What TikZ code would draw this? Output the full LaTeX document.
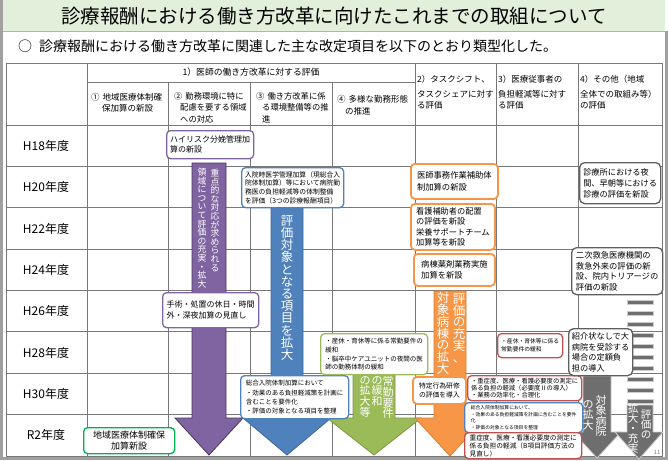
\documentclass[tikz,border=0pt]{standalone}
\usepackage{fontspec}
\setmainfont{Noto Sans CJK JP}
\usetikzlibrary{positioning}
\definecolor{titlegreen}{RGB}{226,239,218}
\definecolor{framegray}{RGB}{160,160,160}
\definecolor{gridgray}{RGB}{120,120,120}
\definecolor{diagrampurple}{RGB}{128,100,162}
\definecolor{diagramblue}{RGB}{79,129,189}
\definecolor{diagramgreen}{RGB}{155,187,89}
\definecolor{brightgreen}{RGB}{0,176,80}
\definecolor{diagramorange}{RGB}{247,150,70}
\definecolor{diagramred}{RGB}{192,80,77}
\definecolor{diagramgray}{RGB}{110,110,110}
\definecolor{boxgray}{RGB}{95,95,95}

% vertical (tategaki) stack of characters
\newcommand\tate[1]{\vbox{\tateaux#1\tateend}}
\def\tateaux#1#2\tateend{\hbox to 1em{\hss#1\hss}\ifx\relax#2\relax\else\tateaux#2\tateend\fi}

\begin{document}
\begin{tikzpicture}[x=1pt, y=-1pt,
    every node/.style={inner sep=0pt},
    gridline/.style={draw=gridgray, line width=0.8pt},
    hdr/.style={anchor=north west, align=left, font=\fontsize{8.5}{11.5}\selectfont},
    yr/.style={font=\fontsize{12}{14}\selectfont},
    box/.style={draw, fill=white, rounded corners=4pt, line width=1.3pt, anchor=north west, align=left, inner sep=2pt},
    arrowshape/.style={line width=0.8pt},
    tatetext/.style={text=white, anchor=north}]

    \useasboundingbox (0,0) rectangle (668,460);
    \fill[white] (0,0) rectangle (668,460);

    % title bar and frame
    \fill[titlegreen] (3,0) rectangle (665,31);
    \draw[gray!60, line width=0.6pt] (3,31) -- (665,31);
    \draw[framegray, line width=3pt] (1.5,0) -- (1.5,460);
    \draw[framegray, line width=3pt] (666.5,31) -- (666.5,460);
    \draw[framegray, line width=3pt] (0,458.5) -- (668,458.5);
    \node (title) at (334,16) {\fontsize{19.5}{22}\selectfont 診療報酬における働き方改革に向けたこれまでの取組について};
    \node[anchor=west] (lead) at (18,46) {\fontsize{14}{16}\selectfont ○\hspace{7pt}診療報酬における働き方改革に関連した主な改定項目を以下のとおり類型化した。};

    % table grid
    \draw[gridline] (6,63) rectangle (662,456);
    \draw[gridline] (87,82) -- (415,82);
    \foreach \x in {87,415,496,578} \draw[gridline] (\x,63) -- (\x,456);
    \foreach \x in {168,250,332} \draw[gridline] (\x,82) -- (\x,456);
    \foreach \k in {0,...,7} \draw[gridline] (6,{125+41.375*\k}) -- (662,{125+41.375*\k});

    % column headers
    \node[font=\fontsize{8.8}{11}\selectfont] (cat1) at (251,72.5) {1）医師の働き方改革に対する評価};
    \node[hdr] (colA) at (91,93) {①\hspace{3pt}地域医療体制確\\\hspace{11pt}保加算の新設};
    \node[hdr, font=\fontsize{8.3}{11.5}\selectfont] (colB) at (174,92) {②\hspace{3pt}勤務環境に特に\\\hspace{6pt}配慮を要する領域\\\hspace{6pt}への対応};
    \node[hdr, font=\fontsize{8.3}{11.5}\selectfont] (colC) at (256,92) {③\hspace{3pt}働き方改革に係\\\hspace{6pt}る環境整備等の推\\\hspace{6pt}進};
    \node[hdr] (colD) at (337,95.5) {④\hspace{3pt}多様な勤務形態\\\hspace{8pt}の推進};
    \node[hdr] (cat2) at (417,75.5) {2）タスクシフト、\\[3pt]タスクシェアに対す\\る評価};
    \node[hdr] (cat3) at (498,75.5) {3）医療従事者の\\[3pt]負担軽減等に対す\\る評価};
    \node[hdr] (cat4) at (580,75.5) {4）その他（地域\\[3pt]全体での取組み等）\\の評価};

    % years
    \foreach \lbl [count=\k from 0] in {H18,H20,H22,H24,H26,H28,H30,R2}
        \node[yr] (yr\lbl) at (46,{145.7+41.375*\k}) {\lbl 年度};

    % arrows
    \filldraw[fill=diagrampurple, draw=diagrampurple!55!black, arrowshape] (192,163) -- (226,163) -- (226,418) -- (243,418) -- (209,455) -- (175,418) -- (192,418) -- cycle;
    \filldraw[fill=diagramblue, draw=diagramblue!80!black, arrowshape] (271,207) -- (303,207) -- (303,418) -- (331,418) -- (287,455) -- (243,418) -- (271,418) -- cycle;
    \filldraw[fill=diagramgreen, draw=diagramgreen!80!black, arrowshape] (353,374) -- (395,374) -- (395,418) -- (421,418) -- (374,455) -- (327,418) -- (353,418) -- cycle;
    \filldraw[fill=diagramorange, draw=diagramorange!85!black, arrowshape] (434,291) -- (466,291) -- (466,418) -- (485,418) -- (450,456) -- (415,418) -- (434,418) -- cycle;
    \filldraw[fill=diagramgray, draw=gray!40, arrowshape] (583,376) -- (611,376) -- (611,432) -- (621,432) -- (597,458) -- (573,432) -- (583,432) -- cycle;
    \foreach \y in {300,311,...,399}
        \filldraw[fill=diagramgray, draw=gray!40, arrowshape] (627,\y) rectangle (653,{\y+4});
    \filldraw[fill=diagramgray, draw=gray!40, arrowshape] (627,405) -- (653,405) -- (653,432) -- (663,432) -- (639,459) -- (615,432) -- (627,432) -- cycle;

    % text on the arrows
    \node[tatetext, font=\fontsize{8.8}{8.6}\selectfont] (purpleR) at (215,169) {\tate{重点的な対応が求められる}};
    \node[tatetext, font=\fontsize{8.8}{8.6}\selectfont] (purpleL) at (202,168) {\tate{領域について評価の充実・拡大}};
    \node[tatetext, font=\fontsize{12.5}{12.2}\selectfont] (blueT) at (287,215) {\tate{評価対象となる項目を拡大}};
    \node[tatetext, font=\fontsize{11}{10.8}\selectfont] (greenR) at (388,376) {\tate{常勤要件}};
    \node[tatetext, font=\fontsize{11}{10.8}\selectfont] (greenM) at (377,376) {\tate{の緩和}};
    \node[tatetext, font=\fontsize{11}{10.8}\selectfont] (greenL) at (365,376) {\tate{の拡大等}};
    \node[tatetext, font=\fontsize{12.5}{11.8}\selectfont] (orangeR) at (459,293) {\tate{評価の充実、}};
    \node[tatetext, font=\fontsize{12.5}{11.8}\selectfont] (orangeL) at (443,292) {\tate{対象病棟の拡大}};
    \node[tatetext, font=\fontsize{11}{10.5}\selectfont] (grayAR) at (601,395) {\tate{対象病院}};
    \node[tatetext, font=\fontsize{11}{10.5}\selectfont] (grayAL) at (588,400) {\tate{の拡大}};
    \node[tatetext, font=\fontsize{10.5}{10}\selectfont] (grayBR) at (646,410) {\tate{評価の}};
    \node[tatetext, font=\fontsize{10.5}{10}\selectfont] (grayBL) at (633,403) {\tate{拡大・充実}};

    % boxes, column 1)
    \node[box, draw=diagrampurple, minimum width=87pt, minimum height=28pt, font=\fontsize{8}{10}\selectfont] (risk) at (166,130) {ハイリスク分娩管理加\\算の新設};
    \node[box, draw=diagrampurple, minimum width=96pt, minimum height=35pt, font=\fontsize{8}{10.5}\selectfont] (shinya) at (162,292) {手術・処置の休日・時間\\外・深夜加算の見直し};
    \node[box, draw=brightgreen, align=center, minimum width=91pt, minimum height=26pt, font=\fontsize{9}{11}\selectfont] (chiiki) at (83,427) {地域医療体制確保\\加算新設};
    \node[box, draw=diagramblue, minimum width=102pt, minimum height=40pt, font=\fontsize{6.8}{8.6}\selectfont] (nyuin) at (241,167) {入院時医学管理加算（現総合入\\院体制加算）等において病院勤\\務医の負担軽減等の体制整備\\を評価（3つの診療報酬項目）};
    \node[box, draw=diagramblue, minimum width=108pt, minimum height=43pt, font=\fontsize{6.5}{9.2}\selectfont] (sogo) at (240,375) {総合入院体制加算において\\・効果のある負担軽減策を計画に\\含むことを要件化\\・評価の対象となる項目を整理};
    \node[box, draw=diagramgreen, minimum width=107pt, minimum height=41pt, font=\fontsize{6.5}{8.8}\selectfont] (kyugyo) at (320,333) {・産休・育休等に係る常勤要件の\\緩和\\・脳卒中ケアユニットの夜間の医\\師の勤務体制の緩和};

    % boxes, column 2)
    \node[box, draw=diagramorange, line width=1.8pt, minimum width=87pt, minimum height=35pt, font=\fontsize{8.3}{11.5}\selectfont] (jimu) at (410,163) {医師事務作業補助体\\制加算の新設};
    \node[box, draw=diagramorange, line width=1.8pt, minimum width=84pt, minimum height=46pt, font=\fontsize{8.2}{10.3}\selectfont] (kango) at (410,203) {看護補助者の配置\\の評価を新設\\栄養サポートチーム\\加算等を新設};
    \node[box, draw=diagramorange, line width=1.8pt, minimum width=81pt, minimum height=32pt, font=\fontsize{8.3}{11.5}\selectfont] (yakuzai) at (413,253) {病棟薬剤業務実施\\加算を新設};
    \node[box, draw=diagramorange, line width=1.8pt, minimum width=53pt, minimum height=27pt, font=\fontsize{6.8}{9.5}\selectfont] (tokutei) at (412,376) {特定行為研修\\の評価を導入};

    % boxes, column 3)
    \node[box, draw=diagramred, minimum width=65pt, minimum height=24pt, font=\fontsize{5.8}{8}\selectfont] (kyugyoB) at (497,333) {・産休・育休等に係る\\常勤要件の緩和};
    \node[box, draw=diagramred, inner ysep=1pt, minimum width=114pt, minimum height=25pt, font=\fontsize{6.3}{7.4}\selectfont] (hitsuyo) at (467,375) {・重症度、医療・看護必要度の測定に\\係る負担の軽減（必要度Ⅱの導入）\\・業務の効率化・合理化};
    \node[box, draw=diagramblue, inner ysep=1pt, minimum width=118pt, minimum height=30pt, font=\fontsize{4.8}{6.4}\selectfont] (sogoB) at (464,402) {総合入院体制加算において、\\・効果のある負担軽減策を計画に含むことを要件\\化\\・評価の対象となる項目を整理};
    \node[box, draw=diagramred, inner ysep=1pt, minimum width=117pt, minimum height=26pt, font=\fontsize{6.7}{8}\selectfont] (hyoka) at (464,432) {重症度、医療・看護必要度の測定に\\係る負担の軽減（B項目評価方法の\\見直し）};

    % boxes, column 4)
    \node[box, draw=boxgray, rounded corners=5pt, minimum width=81pt, minimum height=41pt, font=\fontsize{8.2}{11}\selectfont] (yakan) at (579,162) {診療所における夜\\間、早朝等における\\診療の評価を新設};
    \node[box, draw=boxgray, rounded corners=5pt, minimum width=91pt, minimum height=47pt, font=\fontsize{8.3}{10.5}\selectfont] (kyukyu) at (571,247) {二次救急医療機関の\\救急外来の評価の新\\設、院内トリアージの\\評価の新設};
    \node[box, draw=boxgray, rounded corners=5pt, minimum width=64pt, minimum height=47pt, font=\fontsize{8.2}{10.5}\selectfont] (shokai) at (568,328) {紹介状なしで大\\病院を受診する\\場合の定額負\\担の導入};

    \node[font=\fontsize{6}{6}\selectfont, text=gray] (pageno) at (657,452) {11};
\end{tikzpicture}
\end{document}
